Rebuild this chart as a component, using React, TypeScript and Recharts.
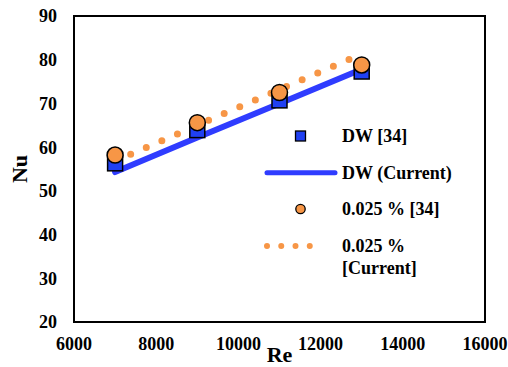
import React from 'react';
import { ComposedChart, Line, Scatter, XAxis, YAxis, ReferenceArea, Legend } from 'recharts';

const reynolds = [7000, 9000, 11000, 13000];
const dwRef = [56.3, 63.9, 70.7, 77.3];
const dwCurrent = [54.3, 62.2, 70.0, 77.8];
const nfRef = [58.2, 65.6, 72.5, 78.8];
const nfCurrent = [56.8, 65.0, 73.2, 81.3];
const xTicks = [6000, 8000, 10000, 12000, 14000, 16000];
const yTicks = [20, 30, 40, 50, 60, 70, 80, 90];
const seriesNames = ['DW [34]', 'DW (Current)', '0.025 % [34]', '0.025 %\n[Current]'];

const rows = reynolds.map((re, i) => ({
  re,
  dwRef: dwRef[i],
  dwCurrent: dwCurrent[i],
  nfRef: nfRef[i],
  nfCurrent: nfCurrent[i],
}));

const BLUE_LINE = '#2F3CFF';
const BLUE_FILL = '#2040F2';
const ORANGE = '#F79646';
const FONT = 'Liberation Serif, DejaVu Serif, serif';

const SquareShape = (props: any) => {
  const { cx, cy } = props;
  if (cx == null || cy == null) return null;
  const s = 15;
  return <rect x={cx - s / 2} y={cy - s / 2} width={s} height={s} fill={BLUE_FILL} stroke="#000" strokeWidth={1.5} />;
};

const CircleShape = (props: any) => {
  const { cx, cy } = props;
  if (cx == null || cy == null) return null;
  return <circle cx={cx} cy={cy} r={8} fill={ORANGE} stroke="#000" strokeWidth={1.5} />;
};

const LegendContent = () => {
  const rowY = [18, 54.7, 91, 128];
  return (
    <svg width={200} height={165} style={{ display: 'block', overflow: 'visible' }}>
      <rect x={33.5} y={rowY[0] - 5} width={10} height={10} fill={BLUE_FILL} stroke="#000" strokeWidth={1.3} />
      <line x1={5} y1={rowY[1]} x2={73} y2={rowY[1]} stroke={BLUE_LINE} strokeWidth={5} strokeLinecap="round" />
      <circle cx={38.5} cy={rowY[2]} r={4.7} fill={ORANGE} stroke="#000" strokeWidth={1.3} />
      <line x1={5} y1={rowY[3]} x2={62} y2={rowY[3]} stroke={ORANGE} strokeWidth={6} strokeLinecap="round" strokeDasharray="0 14.25" />
      {seriesNames.map((name, i) => (
        <text key={i} x={80} y={rowY[i]} style={{ fontFamily: FONT, fontWeight: 'bold', fontSize: 18 }} fill="#000">
          {name.split('\n').map((ln, j) => (
            <tspan key={j} x={80} dy={j === 0 ? '0.35em' : 22}>{ln}</tspan>
          ))}
        </text>
      ))}
    </svg>
  );
};

const YLabel = () => (
  <text transform="translate(26.5,169) rotate(-90)" textAnchor="middle" style={{ fontFamily: FONT, fontWeight: 'bold', fontSize: 22 }} fill="#000">Nu</text>
);
const XLabel = () => (
  <text x={279.5} y={362} textAnchor="middle" style={{ fontFamily: FONT, fontWeight: 'bold', fontSize: 22 }} fill="#000">Re</text>
);

export default function App() {
  const tickStyle = { style: { fontFamily: FONT, fontWeight: 'bold', fontSize: 18 }, fill: '#000' };
  return (
    <div style={{ position: 'absolute', left: 0, top: 0, width: 508, height: 367, background: '#fff', fontFamily: FONT }}>
      <ComposedChart width={508} height={367} data={rows} margin={{ top: 16, right: 23, bottom: 0, left: 0 }}>
        <XAxis
          dataKey="re"
          type="number"
          domain={[6000, 16000]}
          ticks={xTicks}
          height={45}
          tickLine={false}
          tickSize={0}
          tickMargin={15}
          axisLine={false}
          tick={tickStyle}
          interval={0}
          label={<XLabel />}
        />
        <YAxis
          type="number"
          domain={[20, 90]}
          ticks={yTicks}
          width={74}
          tickLine={false}
          tickSize={0}
          tickMargin={17}
          axisLine={false}
          tick={tickStyle}
          interval={0}
          label={<YLabel />}
        />
        <ReferenceArea x1={6000} x2={16000} y1={20} y2={90} fill="none" stroke="#000" strokeWidth={2} ifOverflow="visible" />
        <Line dataKey="dwCurrent" name={seriesNames[1]} stroke={BLUE_LINE} strokeWidth={6} dot={false} activeDot={false} strokeLinecap="round" isAnimationActive={false} />
        <Line dataKey="nfCurrent" name={seriesNames[3]} stroke={ORANGE} strokeWidth={7} strokeDasharray="0 17" strokeLinecap="round" dot={false} activeDot={false} isAnimationActive={false} />
        <Scatter data={rows} dataKey="dwRef" name={seriesNames[0]} shape={<SquareShape />} isAnimationActive={false} />
        <Scatter data={rows} dataKey="nfRef" name={seriesNames[2]} shape={<CircleShape />} isAnimationActive={false} />
        <Legend layout="vertical" align="center" verticalAlign="middle" content={<LegendContent />} wrapperStyle={{ left: 262, top: 118, width: 200, height: 165 }} />
      </ComposedChart>
    </div>
  );
}
